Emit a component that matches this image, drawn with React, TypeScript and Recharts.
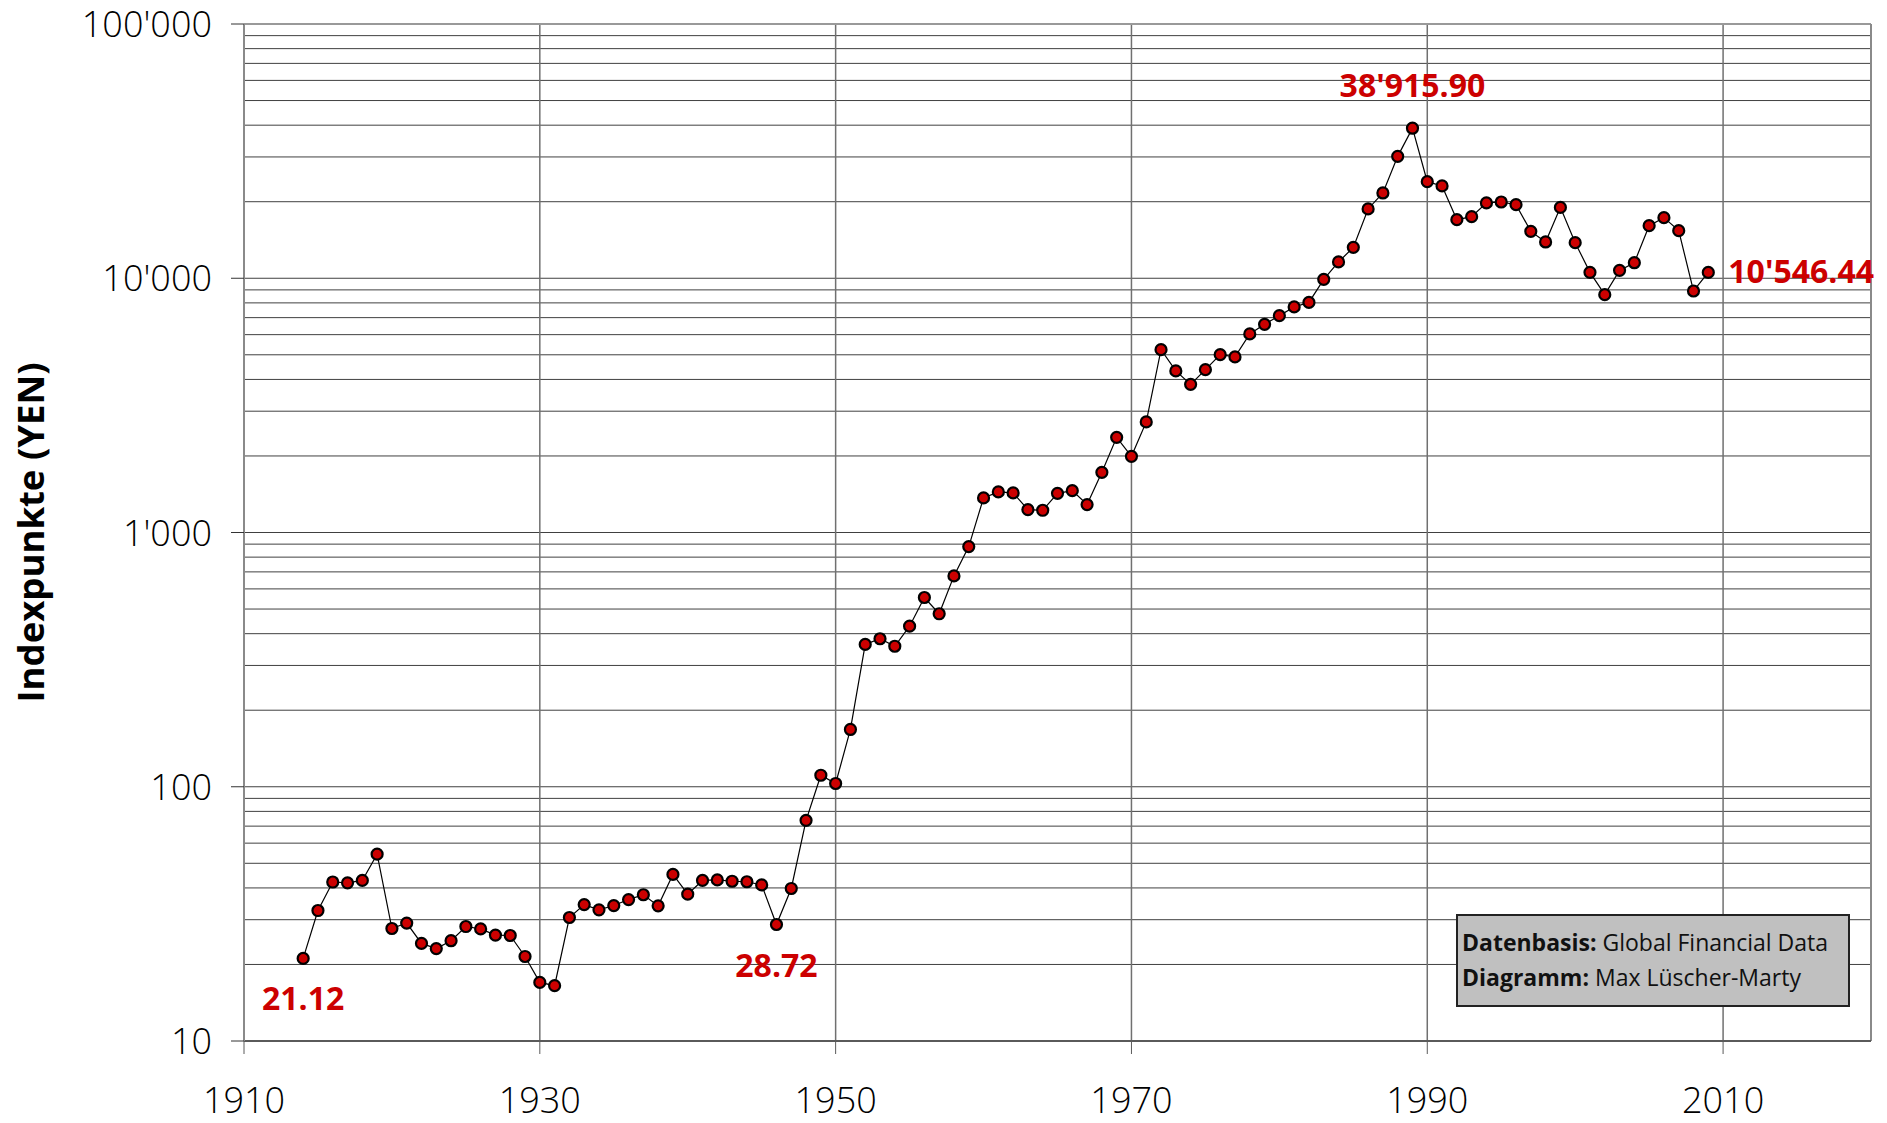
import React from 'react';
import { LineChart, Line, XAxis, YAxis, ReferenceLine, LabelList } from 'recharts';

// Nikkei yearly index points, 1914-2009
const years = [
  1914, 1915, 1916, 1917, 1918, 1919, 1920, 1921, 1922, 1923, 1924, 1925, 1926, 1927, 1928, 1929,
  1930, 1931, 1932, 1933, 1934, 1935, 1936, 1937, 1938, 1939, 1940, 1941, 1942, 1943, 1944, 1945,
  1946, 1947, 1948, 1949, 1950, 1951, 1952, 1953, 1954, 1955, 1956, 1957, 1958, 1959, 1960, 1961,
  1962, 1963, 1964, 1965, 1966, 1967, 1968, 1969, 1970, 1971, 1972, 1973, 1974, 1975, 1976, 1977,
  1978, 1979, 1980, 1981, 1982, 1983, 1984, 1985, 1986, 1987, 1988, 1989, 1990, 1991, 1992, 1993,
  1994, 1995, 1996, 1997, 1998, 1999, 2000, 2001, 2002, 2003, 2004, 2005, 2006, 2007, 2008, 2009,
];

const indexValues = [
  21.12, 32.6, 42.2, 41.9, 42.8, 54.3, 27.7, 29.1, 24.2, 23.1, 24.8, 28.2, 27.6, 26.1, 26.0, 21.5,
  17.0, 16.5, 30.6, 34.4, 32.8, 34.1, 36.0, 37.6, 34.0, 45.2, 37.8, 42.8, 43.0, 42.5, 42.3, 41.1,
  28.72, 39.8, 73.8, 111, 103, 168, 363, 382, 357, 428, 555, 479, 675, 880, 1368, 1444,
  1431, 1230, 1223, 1426, 1461, 1288, 1725, 2367, 1994, 2722, 5238, 4320, 3826, 4371, 5007, 4904,
  6039, 6587, 7128, 7711, 8037, 9901, 11590, 13230, 18730, 21650, 30160, 38915.9, 23980, 23070, 16995, 17463,
  19780, 19950, 19470, 15290, 13890, 18999, 13800, 10550, 8620, 10740, 11510, 16100, 17310, 15390, 8910, 10546.44,
];

const xTicks = [1910, 1930, 1950, 1970, 1990, 2010];
const xGrid = [1930, 1950, 1970, 1990, 2010];
const yTicks = [10, 100, 1000, 10000, 100000];
const yGrid = [
  20, 30, 40, 50, 60, 70, 80, 90,
  100, 200, 300, 400, 500, 600, 700, 800, 900,
  1000, 2000, 3000, 4000, 5000, 6000, 7000, 8000, 9000,
  10000, 20000, 30000, 40000, 50000, 60000, 70000, 80000, 90000,
];
const noteYears = [1914, 1946, 1989, 2009];

const data = years.map((year, i) => ({ year, value: indexValues[i] }));

const FONT = '"Open Sans", "DejaVu Sans", sans-serif';
const RED = '#cc0000';

const notePlace: Record<number, { dx: number; dy: number; anchor: 'start' | 'middle' | 'end' }> = {
  1914: { dx: 0, dy: 52, anchor: 'middle' },
  1946: { dx: 0, dy: 52, anchor: 'middle' },
  1989: { dx: 0, dy: -31, anchor: 'middle' },
  2009: { dx: 20, dy: 11, anchor: 'start' },
};

function swiss(v: number, digits = 0) {
  return v.toFixed(digits).replace(/\B(?=(\d{3})+(?!\d))/g, "'");
}

function XTick({ x, y, payload }: any) {
  return (
    <text x={x} y={y + 59} textAnchor="middle" fontFamily={FONT} fontWeight={300} fontSize={36} fill="#000">
      {payload.value}
    </text>
  );
}

function YTick({ x, y, payload }: any) {
  return (
    <text x={x - 19} y={y + 13} textAnchor="end" fontFamily={FONT} fontWeight={300} fontSize={36} fill="#000">
      {swiss(payload.value)}
    </text>
  );
}

function Note(props: any) {
  const { x, y, index } = props;
  const point = data[index];
  if (!point || !noteYears.includes(point.year)) return null;
  const p = notePlace[point.year];
  return (
    <text
      x={x + p.dx}
      y={y + p.dy}
      textAnchor={p.anchor}
      fontFamily={FONT}
      fontWeight={700}
      fontSize={32}
      fill={RED}
    >
      {swiss(point.value, 2)}
    </text>
  );
}

function AxisTitle({ viewBox }: any) {
  const cy = viewBox ? viewBox.y + viewBox.height / 2 : 532;
  return (
    <text
      transform={`translate(44, ${cy}) rotate(-90)`}
      textAnchor="middle"
      fontFamily={FONT}
      fontWeight={700}
      fontSize={36.5}
      fill="#000"
    >
      Indexpunkte (YEN)
    </text>
  );
}

export default function App() {
  return (
    <div style={{ position: 'absolute', left: 0, top: 0, width: 1887, height: 1123, background: '#fff' }}>
      <LineChart width={1887} height={1123} data={data} margin={{ top: 24, right: 16, bottom: 0, left: 0 }}>
        <XAxis
          dataKey="year"
          type="number"
          domain={[1910, 2020]}
          ticks={xTicks}
          tick={<XTick />}
          tickSize={13}
          tickMargin={0}
          height={82}
          axisLine={{ stroke: '#5a5a5a', strokeWidth: 2 }}
          tickLine={{ stroke: '#5a5a5a' }}
          allowDataOverflow
        />
        <YAxis
          type="number"
          scale="log"
          domain={[10, 100000]}
          ticks={yTicks}
          tick={<YTick />}
          tickSize={13}
          tickMargin={0}
          width={244}
          axisLine={{ stroke: '#8a8a8a', strokeWidth: 2 }}
          tickLine={{ stroke: '#333' }}
          allowDataOverflow
          label={<AxisTitle />}
        />
        {yGrid.map((v) => (
          <ReferenceLine key={`h-${v}`} y={v} stroke="#404040" strokeWidth={1} />
        ))}
        {xGrid.map((v) => (
          <ReferenceLine key={`v-${v}`} x={v} stroke="#707070" strokeWidth={1.5} />
        ))}
        <ReferenceLine y={100000} stroke="#999" strokeWidth={2} />
        <ReferenceLine x={2020} stroke="#8a8a8a" strokeWidth={2} />
        <Line
          dataKey="value"
          stroke="#000"
          strokeWidth={1.2}
          dot={{ r: 5.5, fill: RED, stroke: '#000', strokeWidth: 2.2 }}
          activeDot={false}
          isAnimationActive={false}
        >
          <LabelList dataKey="value" content={<Note />} />
        </Line>
      </LineChart>
      <div
        style={{
          position: 'absolute',
          left: 1456,
          top: 914,
          width: 394,
          height: 93,
          background: '#c0c0c0',
          border: '2px solid #222',
          fontFamily: FONT,
          fontSize: 23,
          lineHeight: '35px',
          color: '#111',
          padding: '9px 0 0 4px',
          boxSizing: 'border-box',
          whiteSpace: 'nowrap',
        }}
      >
        <div>
          <b>Datenbasis:</b> Global Financial Data
        </div>
        <div>
          <b>Diagramm:</b> Max Lüscher-Marty
        </div>
      </div>
    </div>
  );
}
